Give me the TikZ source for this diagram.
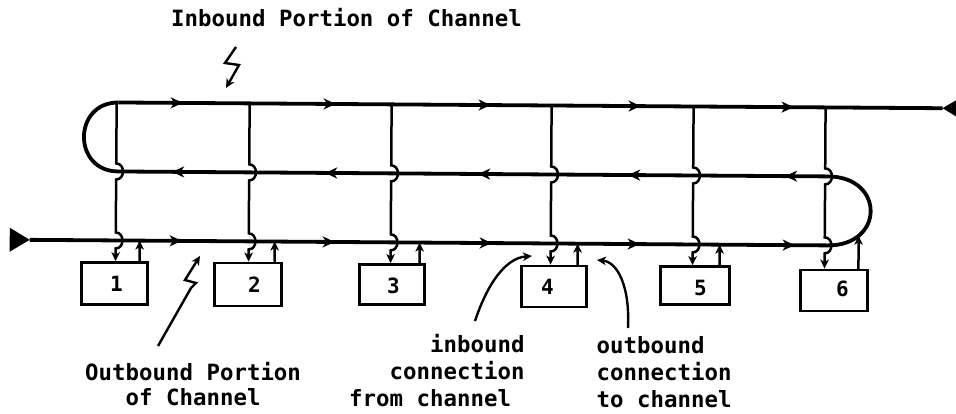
\documentclass[tikz,border=0pt]{standalone}
\usepackage{fontspec}
\newfontfamily\chanmono{DejaVu Sans Mono}
\usetikzlibrary{arrows.meta,decorations.markings,intersections}
\tikzset{
  flowtip/.tip={Stealth[length=12pt,width=11pt,inset=3.5pt]},
  smalltip/.tip={Stealth[length=9pt,width=8.5pt,inset=2.5pt]},
}
\begin{document}
\begin{tikzpicture}[x=1pt,y=-1pt,
  chan/.style={line width=3.8pt},
  flowline/.style={line width=3.8pt, postaction={decorate}},
  tapline/.style={line width=2.5pt,-smalltip},
  stationbox/.style={draw,line width=2.6pt,inner sep=0pt},
  num/.style={font=\chanmono\bfseries\fontsize{21}{25}\selectfont, inner sep=0pt},
  lab/.style={font=\chanmono\bfseries\fontsize{22.4}{27}\selectfont, inner sep=0pt, anchor=base west},
  leader/.style={line width=2.4pt,-smalltip}]
\path[fill=white, use as bounding box] (0,0) rectangle (956,413);
\begin{scope}[rotate around={-0.4:(480,200)}]
  \coordinate (TL) at (118,105);
  \coordinate (TR) at (942,105);
  \coordinate (ML) at (118,174);
  \coordinate (MR) at (828,174);
  \coordinate (BL) at (30,243);
  \coordinate (BR) at (828,243);
  % outbound portion + right loop
  \draw[flowline, name path global=lower, decoration={markings,
    mark=at position 152pt with {\arrow{flowtip}},
    mark=at position 305pt with {\arrow{flowtip}},
    mark=at position 462pt with {\arrow{flowtip}},
    mark=at position 610pt with {\arrow{flowtip}},
    mark=at position 765pt with {\arrow{flowtip}}}]
    (BL) -- (BR) .. controls (885,243) and (885,174) .. (MR);
  % middle portion
  \draw[flowline, decoration={markings,
    mark=at position 43pt with {\arrow{flowtip}},
    mark=at position 200pt with {\arrow{flowtip}},
    mark=at position 350pt with {\arrow{flowtip}},
    mark=at position 503pt with {\arrow{flowtip}},
    mark=at position 656pt with {\arrow{flowtip}}}]
    (MR) -- (ML);
  % left loop
  \draw[chan] (ML) .. controls (72,174) and (72,105) .. (TL);
  % inbound portion
  \draw[flowline, decoration={markings,
    mark=at position 64pt with {\arrow{flowtip}},
    mark=at position 217pt with {\arrow{flowtip}},
    mark=at position 372pt with {\arrow{flowtip}},
    mark=at position 522pt with {\arrow{flowtip}},
    mark=at position 675pt with {\arrow{flowtip}}}]
    (TL) -- (TR);
  % end markers
  \fill (BL) -- (10,231) -- (10,255) -- cycle;
  \fill (TR) -- (957,96) -- (957,114) -- cycle;
  % stations
  \foreach \n/\x/\o/\cx/\cy/\w/\h/\nx in {
    1/116/140/115/286/66/42/117,
    2/249/275/248.5/286/67/43/255,
    3/391/420/392.5/285/65/40/394,
    4/551/578/554.5/286/65/41/548,
    5/693/720/695.5/284/69/38/701,
    6/825/859/834.5/288/67/41/843}{
    \node[stationbox, minimum width=\w pt, minimum height=\h pt] (s\n) at (\cx,\cy) {};
    \node[num] (n\n) at (\nx,286) {\n};
    \coordinate (tp\n) at (\x,105);
    \coordinate (ob\n) at (\o,250);
    \draw[tapline] (tp\n) -- (\x,166) .. controls (\x+9,166) and (\x+9,182) .. (\x,182)
      -- (\x,235) .. controls (\x+9,235) and (\x+9,251) .. (\x,251) -- (tp\n |- s\n.north);
    \path[name path=up\n] (\o,320) -- (\o,150);
    \path[name intersections={of=lower and up\n, by={c\n}, sort by=up\n}];
    \draw[tapline] (ob\n |- s\n.north) -- (c\n);
  }
\end{scope}
% labels
\node[lab] (inlab) at (171,26) {Inbound Portion of Channel};
\node[lab] (obA) at (85,380) {Outbound Portion};
\node[lab] (obB) at (125.5,405) {of Channel};
\node[lab] (icA) at (430,352) {inbound};
\node[lab] (icB) at (389.5,379) {connection};
\node[lab] (icC) at (349,406) {from channel};
\node[lab] (ocA) at (596.5,353) {outbound};
\node[lab] (ocB) at (596.5,380) {connection};
\node[lab] (ocC) at (596.5,407) {to channel};
% leaders
\coordinate (inTip) at (226,88);
\coordinate (obTip) at (200,256);
\coordinate (icTip) at (532,256);
\coordinate (ocTip) at (597,260);
\draw[leader] (236,47) -- (225,63) -- (239,65) -- (inTip);
\draw[leader] (158,346) -- (191,288) -- (196,283) -- (185,280) -- (obTip);
\draw[leader] (475,321) .. controls (487,285) and (505,258) .. (icTip);
\draw[leader] (628,328) .. controls (630,285) and (617,262) .. (ocTip);
\end{tikzpicture}
\end{document}
